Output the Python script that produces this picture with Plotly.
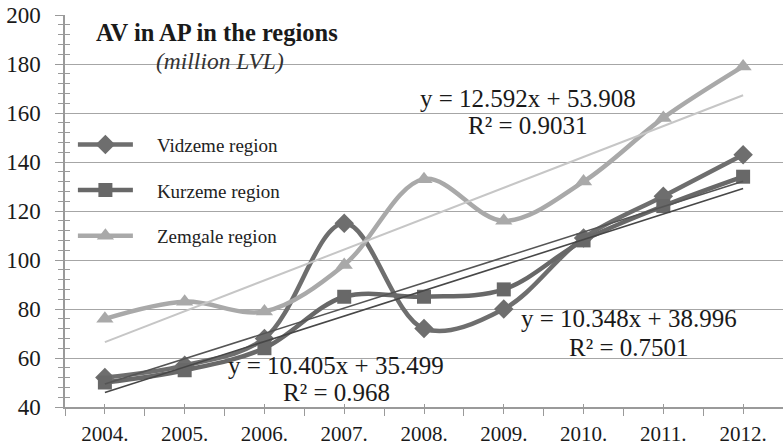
import numpy as np
import plotly.graph_objects as go

years = ["2004.", "2005.", "2006.", "2007.", "2008.", "2009.", "2010.", "2011.", "2012."]
vidzeme = [52, 57, 68, 115, 72, 80, 109, 126, 143]
kurzeme = [50, 55, 64, 85, 85, 88, 108, 122, 134]
zemgale = [76, 83, 79, 98, 133, 116, 132, 158, 179]

# trendline coefficients as printed on the chart (y = a*x + b, x = 1..9)
trend_vidzeme = (10.348, 38.996, "0.7501")
trend_kurzeme = (10.405, 35.499, "0.968")
trend_zemgale = (12.592, 53.908, "0.9031")

FONT = "'Liberation Serif', 'Times New Roman', Times, serif"
xi = np.arange(len(years))
xn = xi + 1
PAD = "\u00a0" * 4

fig = go.Figure()

series = [
    ("Vidzeme region", vidzeme, "#6e6e6e", "diamond", 15),
    ("Kurzeme region", kurzeme, "#686868", "square", 14),
    ("Zemgale region", zemgale, "#a9a9a9", "triangle-up", 15),
]
for i, (name, vals, col, sym, sz) in enumerate(series):
    fig.add_trace(go.Scatter(
        x=xi, y=vals, name=PAD + name, mode="lines+markers",
        line=dict(color=col, width=4.5, shape="spline", smoothing=1.0),
        marker=dict(symbol=sym, size=sz, color=col),
        legendgroup=f"g{i}",
    ))

for (a, b, _), col, w in [(trend_zemgale, "#c6c6c6", 2),
                          (trend_vidzeme, "#555555", 1.6),
                          (trend_kurzeme, "#474747", 1.6)]:
    fig.add_trace(go.Scatter(
        x=xi, y=a * xn + b, mode="lines", showlegend=False,
        line=dict(color=col, width=w), hoverinfo="skip",
    ))

# helper overlay axes to draw ticks crossing the axis lines
fig.add_trace(go.Scatter(x=[], y=[], xaxis="x2", yaxis="y2", showlegend=False))

def eq(a, b):
    return f"y = {a:.3f}x + {b:.3f}"

ann = []
for (a, b, r2), (xc, y1, y2) in [
    (trend_zemgale, (5.30, 166.0, 155.0)),
    (trend_kurzeme, (2.90, 57.0, 45.8)),
    (trend_vidzeme, (6.57, 76.0, 64.2)),
]:
    ann.append(dict(x=xc, y=y1, xref="x", yref="y", text=eq(a, b), showarrow=False,
                    xanchor="center", yanchor="middle",
                    font=dict(family=FONT, size=25, color="#1a1a1a")))
    ann.append(dict(x=xc, y=y2, xref="x", yref="y", text=f"R² = {r2}", showarrow=False,
                    xanchor="center", yanchor="middle",
                    font=dict(family=FONT, size=25, color="#1a1a1a")))

ann.append(dict(x=0.212, y=0.955, xref="paper", yref="paper", showarrow=False,
                xanchor="center", yanchor="middle",
                text="<b>AV in AP in the regions</b>",
                font=dict(family=FONT, size=24.5, color="#1a1a1a")))
ann.append(dict(x=0.216, y=0.882, xref="paper", yref="paper", showarrow=False,
                xanchor="center", yanchor="middle",
                text="<i>(million LVL)</i>",
                font=dict(family=FONT, size=23.5, color="#333333")))

axcol = "#9a9a9a"
fig.update_layout(
    width=783, height=446,
    margin=dict(l=65, r=0, t=15, b=36),
    paper_bgcolor="white", plot_bgcolor="white",
    font=dict(family=FONT, size=20, color="#1a1a1a"),
    annotations=ann,
    showlegend=True,
    legend=dict(x=0.011, y=0.718, xanchor="left", yanchor="top",
                bgcolor="rgba(0,0,0,0)", font=dict(family=FONT, size=19, color="#222222"),
                tracegroupgap=18, itemwidth=55, traceorder="grouped"),
    xaxis=dict(range=[-0.5, 8.5], tickvals=list(xi), ticktext=years,
               showgrid=False, zeroline=False, showline=True, linecolor=axcol, linewidth=1.5,
               ticks="outside", ticklen=5, tickcolor=axcol, tickwidth=1.3,
               minor=dict(tickvals=[v - 0.5 for v in range(len(years) + 1)],
                          ticks="outside", ticklen=7, tickcolor=axcol, tickwidth=1.3),
               tickfont=dict(family=FONT, size=21), ticklabelstandoff=2),
    yaxis=dict(range=[40, 200], dtick=20, showgrid=True, gridcolor="#a6a6a6", gridwidth=1.3,
               zeroline=False, showline=True, linecolor=axcol, linewidth=1.5,
               ticks="outside", ticklen=8, tickcolor=axcol, tickwidth=1.3,
               minor=dict(dtick=4, ticks="outside", ticklen=5, tickcolor=axcol, tickwidth=1.3),
               tickfont=dict(family=FONT, size=23), ticklabelstandoff=10),
    xaxis2=dict(overlaying="x", range=[-0.5, 8.5], tickvals=list(xi), showticklabels=False,
                showgrid=False, zeroline=False, showline=False, anchor="y2",
                ticks="inside", ticklen=3, tickcolor=axcol, tickwidth=1.3),
    yaxis2=dict(overlaying="y", range=[40, 200], dtick=20, showticklabels=False,
                showgrid=False, zeroline=False, showline=False, anchor="x2", side="left",
                ticks="", minor=dict(dtick=4, ticks="inside", ticklen=5, tickcolor=axcol, tickwidth=1.3)),
)

fig.write_html("out.html", config={"displayModeBar": False},
               post_script="document.body.style.margin='0';document.body.style.overflow='hidden';")
